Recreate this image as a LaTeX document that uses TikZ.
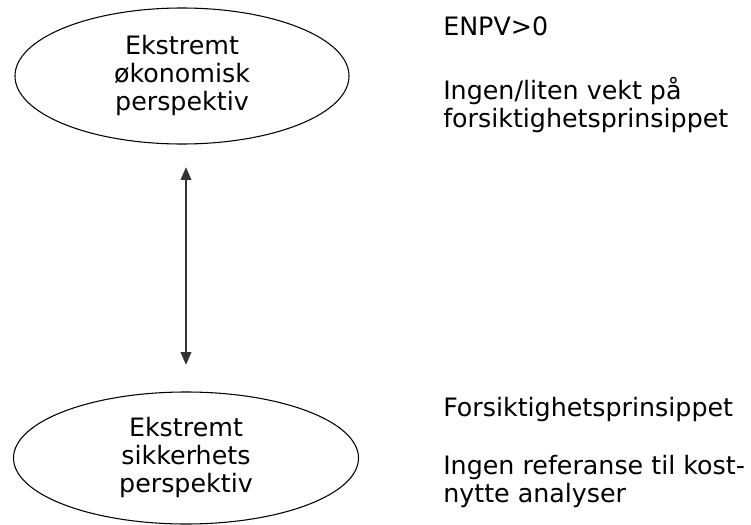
\documentclass[tikz,border=0pt]{standalone}
\usepackage{fontspec}
\setmainfont{DejaVu Sans}
\usetikzlibrary{arrows.meta, shapes.geometric, positioning}
\definecolor{lineGrey}{HTML}{333333}
\tikzset{
  view/.style  = {ellipse, draw=black, line width=0.8pt, inner sep=0pt,
                  align=center, font=\fontsize{19}{21}\selectfont},
  note/.style  = {anchor=base west, inner sep=0pt, align=left,
                  font=\fontsize{19}{21}\selectfont},
  link/.style  = {{Triangle[length=9.5pt,width=8pt]}-{Triangle[length=9.5pt,width=8pt]},
                  line width=1pt, lineGrey},
}

\begin{document}
\begin{tikzpicture}[x=0.75pt, y=-0.75pt]
  \useasboundingbox (0,0) rectangle (751,525);
  % the two extreme views
  \node[view, minimum width=250.5pt, minimum height=102pt] (econ) at (182,76)
    {Ekstremt\\økonomisk\\perspektiv};
  \node[view, minimum width=258.75pt, minimum height=99pt] (safe) at (186,458)
    {Ekstremt\\sikkerhets\\perspektiv};
  % scale between them
  \draw[link, shorten <=17pt, shorten >=20pt] (econ.south -| safe.north) -- (safe.north);
  % what each view means (base of a multi-line note is its last line)
  \node[note] (econGoal) at (443,35) {ENPV>0};
  \node[note] (econNote) at (443,127) {Ingen/liten vekt på\\forsiktighetsprinsippet};
  \node[note] (safeGoal) at (443,416) {Forsiktighetsprinsippet};
  \node[note] (safeNote) at (443,502) {Ingen referanse til kost-\\nytte analyser};
\end{tikzpicture}
\end{document}
